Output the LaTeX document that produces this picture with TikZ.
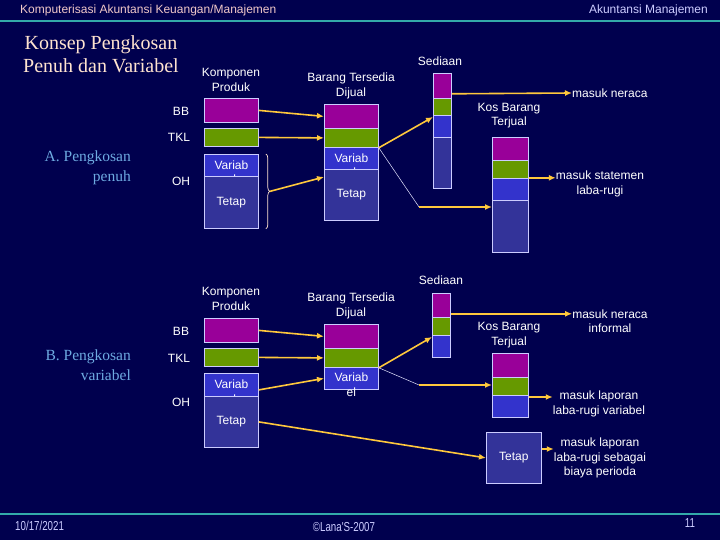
\documentclass[tikz,border=0pt]{standalone}
\usepackage{fontspec}
\setmainfont{Liberation Sans}
\newfontfamily\judulfont{Liberation Serif}
\newfontfamily\sempitfont[FakeStretch=0.75]{Liberation Sans}
\usetikzlibrary{arrows.meta, calc, decorations.pathreplacing}

\definecolor{latar}{RGB}{0,0,78}
\definecolor{latartengah}{RGB}{12,12,168}
\definecolor{garis}{RGB}{51,170,170}
\definecolor{ungu}{RGB}{153,0,153}
\definecolor{hijau}{RGB}{102,153,0}
\definecolor{biru}{RGB}{51,51,204}
\definecolor{tetap}{RGB}{51,51,153}
\definecolor{tepi}{RGB}{204,204,255}
\definecolor{panah}{RGB}{255,200,60}
\definecolor{krem}{RGB}{255,228,208}
\definecolor{birumuda}{RGB}{110,170,225}
\definecolor{merahmuda}{RGB}{240,200,200}

\begin{document}
\begin{tikzpicture}[x=1pt,y=-1pt,
    kotak/.style={draw=tepi, line width=0.8pt, inner sep=0pt, anchor=north west,
      text=white, font=\fontsize{12}{14.5}\selectfont},
    lebarA/.style={minimum width=54pt},
    lebarS/.style={minimum width=18pt},
    lebarK/.style={minimum width=36pt},
    teks/.style={text=white, font=\fontsize{12}{14.5}\selectfont, align=center, inner sep=0pt},
    panahkuning/.style={panah, line width=1.6pt, -{Latex[length=7pt,width=6pt]}},
    tipis/.style={tepi!50!white, line width=0.5pt},
    subjudul/.style={font=\judulfont\fontsize{15.5}{20}\selectfont, text=birumuda,
      align=right, inner sep=0pt, anchor=east},
  ]
    \coordinate (KiriAtas)   at (0,0);
    \coordinate (KananBawah) at (720,540);
    \useasboundingbox (KiriAtas) rectangle (KananBawah);
    \shade[top color=latar, middle color=latartengah, bottom color=latar]
      (KiriAtas) rectangle (KananBawah);% latar slide

    \draw[garis, line width=2pt] (0,21) -- (720,21);% garis kepala
    \draw[garis, line width=2pt] (0,514) -- (720,514);% garis kaki

    \node[anchor=west, inner sep=0pt, text=merahmuda, font=\fontsize{12}{14}\selectfont]
      (kepalaKiri) at (20,10) {Komputerisasi Akuntansi Keuangan/Manajemen};
    \node[anchor=east, inner sep=0pt, text=tepi, font=\fontsize{12}{14}\selectfont]
      (kepalaKanan) at (708,10) {Akuntansi Manajemen};
    \node[align=center, inner sep=0pt, text=krem, font=\judulfont\fontsize{20}{23}\selectfont]
      (judul) at (101,54.5) {Konsep Pengkosan\\Penuh dan Variabel};

    % ---------- A. pengkosan penuh
    \node[subjudul] (subA) at (131,168) {A. Pengkosan\\penuh};
    \node[teks] (lbBB)  at (181,111) {BB};
    \node[teks] (lbTKL) at (179,137) {TKL};
    \node[teks] (lbOH)  at (181,181) {OH};

    \node[teks] (jdKP) at (231,80)    {Komponen\\Produk};
    \node[teks] (jdBT) at (351,86)    {Barang Tersedia\\Dijual};
    \node[teks] (jdSd) at (440,61)    {Sediaan};
    \node[teks] (jdKB) at (509,115.5) {Kos Barang\\Terjual};

    \node[kotak, lebarA, fill=ungu,  minimum height=24pt] (kpBB)  at (204,98)  {};
    \node[kotak, lebarA, fill=hijau, minimum height=18pt] (kpTKL) at (204,128) {};
    \node[kotak, lebarA, fill=biru,  minimum height=22pt] (kpVar) at (204,154) {};
    \node[teks, anchor=north] (kpVarTeks) at ([yshift=-6.5pt]kpVar.north) {Variab\\el};
    \node[kotak, lebarA, fill=tetap, minimum height=52pt] (kpTetap) at (204,176) {Tetap};

    \node[kotak, lebarA, fill=ungu,  minimum height=24pt] (btBB)  at (324,104) {};
    \node[kotak, lebarA, fill=hijau, minimum height=19pt] (btTKL) at (324,128) {};
    \node[kotak, lebarA, fill=biru,  minimum height=22pt] (btVar) at (324,147) {};
    \node[teks, anchor=north] (btVarTeks) at ([yshift=-6.5pt]btVar.north) {Variab\\el};
    \node[kotak, lebarA, fill=tetap, minimum height=51pt] (btTetap) at (324,169) {Tetap};

    \node[kotak, lebarS, fill=ungu,  minimum height=25pt] (sdBB)    at (433,73)  {};
    \node[kotak, lebarS, fill=hijau, minimum height=17pt] (sdTKL)   at (433,98)  {};
    \node[kotak, lebarS, fill=biru,  minimum height=22pt] (sdVar)   at (433,115) {};
    \node[kotak, lebarS, fill=tetap, minimum height=51pt] (sdTetap) at (433,137) {};

    \node[kotak, lebarK, fill=ungu,  minimum height=23pt] (kbBB)    at (492,137) {};
    \node[kotak, lebarK, fill=hijau, minimum height=18pt] (kbTKL)   at (492,160) {};
    \node[kotak, lebarK, fill=biru,  minimum height=22pt] (kbVar)   at (492,178) {};
    \node[kotak, lebarK, fill=tetap, minimum height=52pt] (kbTetap) at (492,200) {};

    \node[teks, anchor=west] (lbNeraca) at (572,93) {masuk neraca};
    \node[teks] (lbStatemen) at (600,184) {masuk statemen\\laba-rugi};

    % kurung kurawal OH
    \draw[krem, line width=0.7pt, decorate, decoration={brace, amplitude=4pt}]
      ([xshift=7pt]kpVar.north east) -- ([xshift=7pt]kpTetap.south east);
    \coordinate (ujungKurung) at ($(kpVar.north east)!0.5!(kpTetap.south east)+(11,0)$);

    \draw[panahkuning] (kpBB.east)  -- (btBB.west);
    \draw[panahkuning] (kpTKL.east) -- (btTKL.west);
    \draw[panahkuning] (ujungKurung) -- ([yshift=-8pt]btTetap.north west);
    \draw[panahkuning] (btTKL.south east) -- ([yshift=-2pt]sdVar.north west);
    \coordinate (belok1) at (419,207);
    \draw[tipis] (btTKL.south east) -- (belok1);
    \draw[panahkuning] (belok1) -- (belok1 -| kbTetap.west);
    \draw[panahkuning] ([yshift=5pt]sdBB.south east) -- (lbNeraca.west);
    \draw[panahkuning] ([yshift=1pt]kbTKL.south east) coordinate (a1)
      -- (a1 -| lbStatemen.west);

    % ---------- B. pengkosan variabel
    \node[subjudul] (subB) at (131,365) {B. Pengkosan\\variabel};
    \node[teks] (lbBB2)  at (181,331) {BB};
    \node[teks] (lbTKL2) at (179,358) {TKL};
    \node[teks] (lbOH2)  at (181,402) {OH};

    \node[teks] (jdKP2) at (231,299) {Komponen\\Produk};
    \node[teks] (jdBT2) at (351,306) {Barang Tersedia\\Dijual};
    \node[teks] (jdSd2) at (441,280) {Sediaan};
    \node[teks] (jdKB2) at (509,335) {Kos Barang\\Terjual};

    \node[kotak, lebarA, fill=ungu,  minimum height=24pt] (kpBB2)  at (204,318) {};
    \node[kotak, lebarA, fill=hijau, minimum height=18pt] (kpTKL2) at (204,348) {};
    \node[kotak, lebarA, fill=biru,  minimum height=23pt] (kpVar2) at (204,373) {};
    \node[teks, anchor=north] (kpVar2Teks) at ([yshift=-7pt]kpVar2.north) {Variab\\el};
    \node[kotak, lebarA, fill=tetap, minimum height=51pt] (kpTetap2) at (204,396) {Tetap};

    \node[kotak, lebarA, fill=ungu,  minimum height=24pt] (btBB2)  at (324,324) {};
    \node[kotak, lebarA, fill=hijau, minimum height=19pt] (btTKL2) at (324,348) {};
    \node[kotak, lebarA, fill=biru,  minimum height=22pt] (btVar2) at (324,367) {};
    \node[teks, anchor=north] (btVar2Teks) at ([yshift=-6pt]btVar2.north) {Variab\\el};

    \node[kotak, lebarS, fill=ungu,  minimum height=24pt] (sdBB2)  at (432,293) {};
    \node[kotak, lebarS, fill=hijau, minimum height=18pt] (sdTKL2) at (432,317) {};
    \node[kotak, lebarS, fill=biru,  minimum height=22pt] (sdVar2) at (432,335) {};

    \node[kotak, lebarK, fill=ungu,  minimum height=24pt] (kbBB2)  at (492,353) {};
    \node[kotak, lebarK, fill=hijau, minimum height=18pt] (kbTKL2) at (492,377) {};
    \node[kotak, lebarK, fill=biru,  minimum height=22pt] (kbVar2) at (492,395) {};

    \node[kotak, fill=tetap, minimum width=55pt, minimum height=51pt] (tpBox) at (486,432) {Tetap};

    \node[teks] (lbInformal) at (610,321) {masuk neraca\\informal};
    \node[teks] (lbVariabel) at (599,404) {masuk laporan\\laba-rugi variabel};
    \node[teks] (lbPerioda)  at (600,458) {masuk laporan\\laba-rugi sebagai\\biaya perioda};

    \draw[panahkuning] (kpBB2.east)  -- (btBB2.west);
    \draw[panahkuning] (kpTKL2.east) -- (btTKL2.west);
    \draw[panahkuning] ([yshift=-5pt]kpVar2.east) -- (btVar2.west);
    \draw[panahkuning] (kpTetap2.east) -- (tpBox.west);
    \draw[panahkuning] (btTKL2.south east) -- ([yshift=-2pt]sdVar2.north west);
    \coordinate (belok2) at (419,385);
    \draw[tipis] (btTKL2.south east) -- (belok2);
    \draw[panahkuning] (belok2) -- (belok2 -| kbTKL2.west);
    \draw[panahkuning] ([yshift=4pt]sdBB2.south east) coordinate (a2)
      -- (a2 -| lbInformal.west);
    \draw[panahkuning] ([yshift=-2pt]kbVar2.north east) coordinate (a3)
      -- (a3 -| lbVariabel.west);
    \draw[panahkuning] ([yshift=-17pt]tpBox.north east) coordinate (a4)
      -- (a4 -| lbPerioda.west);

    % ---------- kaki slide
    \node[anchor=west, inner sep=0pt, text=tepi, font=\sempitfont\fontsize{13}{15}\selectfont]
      (tanggal) at (15,526) {10/17/2021};
    \node[inner sep=0pt, text=tepi, font=\sempitfont\fontsize{13}{15}\selectfont]
      (hakcipta) at (344,527) {©Lana'S-2007};
    \node[inner sep=0pt, text=tepi, font=\sempitfont\fontsize{13}{15}\selectfont]
      (halaman) at (690,523) {11};
\end{tikzpicture}
\end{document}
